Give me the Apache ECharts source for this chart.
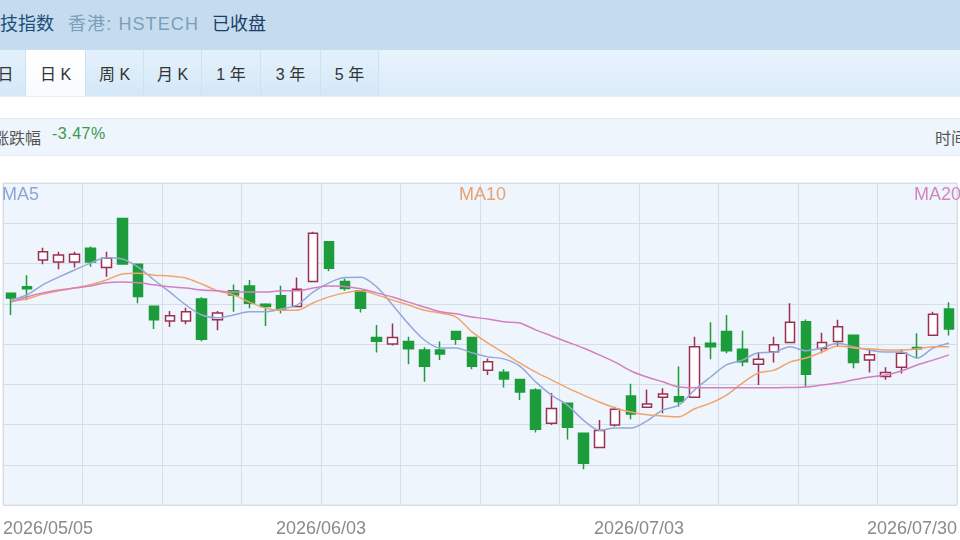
<!DOCTYPE html>
<html><head><meta charset="utf-8">
<script src="https://cdn.jsdelivr.net/npm/echarts@6/dist/echarts.min.js"></script>
<style>
html,body{margin:0;padding:0;width:960px;height:540px;overflow:hidden;background:#fff;font-family:"Liberation Sans","Noto Sans CJK SC",sans-serif;position:relative;}
.abs{position:absolute;white-space:nowrap;}
#hdr{left:0;top:0;width:960px;height:50px;background:#c4dcee;}
#tabs{left:0;top:50px;width:960px;height:46px;background:linear-gradient(#e7f3fd,#dbebf9);border-bottom:1px solid #e6eef6;}
.tab{position:absolute;top:0;height:46px;line-height:50px;font-size:16px;color:#333;text-align:center;border-right:1px solid #cfe1f0;box-sizing:border-box;background:linear-gradient(#e3f1fc,#d5e8f7);}
.tab.on{background:linear-gradient(#ffffff,#f7fbff);}
#info{left:0;top:118px;width:960px;height:36px;background:#eef5fc;border-top:1px solid #e2ebf5;border-bottom:1px solid #e2ebf5;}
#chart{position:absolute;left:0;top:160px;width:960px;height:380px;}
</style></head>
<body>
<div id="hdr" class="abs">
  <span class="abs" style="left:0;top:9px;font-size:18px;color:#1e4d7b;">技指数</span>
  <span class="abs" style="left:68px;top:9px;font-size:18px;letter-spacing:1.1px;color:#7d9eba;">香港: HSTECH</span>
  <span class="abs" style="left:212px;top:9px;font-size:18px;color:#1d3e68;">已收盘</span>
</div>
<div id="tabs" class="abs">
  <div class="tab" style="left:-30px;width:56px;">五日</div>
  <div class="tab on" style="left:26px;width:60px;">日 K</div>
  <div class="tab" style="left:86px;width:58px;">周 K</div>
  <div class="tab" style="left:144px;width:58px;">月 K</div>
  <div class="tab" style="left:202px;width:59px;">1 年</div>
  <div class="tab" style="left:261px;width:60px;">3 年</div>
  <div class="tab" style="left:321px;width:58px;">5 年</div>
</div>
<div id="info" class="abs">
  <span class="abs" style="left:-7px;top:6px;font-size:16px;color:#555;">涨跌幅</span>
  <span class="abs" style="left:52px;top:6px;font-size:16px;letter-spacing:0.5px;color:#3b9a4b;">-3.47%</span>
  <span class="abs" style="left:935px;top:6px;font-size:16px;color:#555;">时间</span>
</div>
<div id="chart"></div>
<script>
const dates = ['2026/05/05','2026/05/06','2026/05/07','2026/05/08','2026/05/11','2026/05/12','2026/05/13','2026/05/14','2026/05/15',
'2026/05/18','2026/05/19','2026/05/20','2026/05/21','2026/05/22','2026/05/26','2026/05/27','2026/05/28','2026/05/29',
'2026/06/01','2026/06/02','2026/06/03','2026/06/04','2026/06/05','2026/06/08','2026/06/09','2026/06/10','2026/06/11','2026/06/12',
'2026/06/15','2026/06/16','2026/06/17','2026/06/18','2026/06/22','2026/06/23','2026/06/24','2026/06/25','2026/06/26',
'2026/06/29','2026/06/30','2026/07/02','2026/07/03','2026/07/06','2026/07/07','2026/07/08','2026/07/09','2026/07/10',
'2026/07/13','2026/07/14','2026/07/15','2026/07/16','2026/07/17','2026/07/20','2026/07/21','2026/07/22','2026/07/23','2026/07/24',
'2026/07/27','2026/07/28','2026/07/29','2026/07/30'];
const openP = [5326,5342,5409,5404,5404,5438,5390,5512,5398,5294,5257,5257,5312,5260,5332,5344,5299,5320,5293,5355,
5454,5355,5332,5216,5200,5206,5185,5185,5231,5216,5135,5130,5112,5086,5003,5053,4978,4943,4999,5071,
5043,5068,5069,5068,5202,5231,5187,5150,5181,5204,5255,5189,5206,5222,5160,5119,5142,5191,5222,5287];
const closeP = [5314,5337,5429,5421,5423,5404,5413,5399,5318,5260,5270,5280,5212,5277,5322,5301,5293,5284,5336,5475,
5388,5338,5289,5207,5216,5188,5145,5175,5212,5145,5156,5113,5081,4988,5040,4993,4904,4985,5038,5026,
5051,5076,5057,5193,5193,5183,5156,5162,5198,5254,5125,5204,5243,5154,5173,5129,5177,5188,5274,5237];
const lowP = [5272,5309,5398,5386,5390,5392,5367,5398,5301,5237,5242,5249,5207,5234,5280,5289,5245,5276,5293,5354,
5381,5332,5278,5179,5196,5150,5106,5160,5198,5137,5123,5092,5061,4980,4999,4963,4889,4943,4995,5013,
5043,5028,5044,5068,5162,5177,5145,5098,5154,5204,5094,5177,5193,5140,5129,5111,5127,5164,5222,5221];
const highP = [5327,5371,5439,5429,5429,5442,5429,5513,5399,5295,5282,5290,5316,5282,5348,5359,5301,5345,5365,5479,
5454,5363,5332,5247,5251,5218,5192,5206,5231,5216,5164,5137,5112,5090,5078,5053,4978,5011,5044,5101,
5087,5090,5144,5218,5254,5272,5233,5178,5218,5301,5261,5228,5260,5222,5187,5142,5187,5227,5280,5304];
const ma5 = [5309,5322,5347,5366,5384,5401,5414,5411,5391,5359,5329,5297,5272,5265,5272,5280,5280,5287,5297,5329,
5352,5365,5366,5342,5297,5250,5210,5190,5190,5178,5168,5163,5145,5106,5073,5048,5011,4986,4991,4991,
5009,5036,5048,5086,5118,5148,5160,5178,5180,5193,5183,5190,5202,5193,5185,5180,5180,5165,5190,5202];
const ma10 = [5307,5312,5324,5332,5339,5347,5359,5374,5376,5371,5369,5364,5349,5332,5322,5304,5289,5284,5284,5302,
5317,5327,5332,5322,5309,5297,5284,5277,5267,5230,5202,5178,5153,5130,5111,5091,5073,5056,5041,5031,
5024,5021,5019,5039,5053,5073,5103,5128,5135,5155,5165,5180,5195,5190,5188,5185,5185,5188,5193,5193];
const ma20 = [5304,5317,5327,5334,5339,5344,5352,5354,5352,5347,5342,5339,5334,5332,5329,5329,5329,5332,5332,5339,
5344,5343,5337,5327,5317,5304,5292,5280,5275,5267,5262,5255,5252,5235,5220,5205,5190,5173,5155,5133,
5118,5106,5093,5091,5091,5091,5091,5091,5091,5092,5093,5098,5103,5111,5118,5123,5133,5148,5160,5173];
const maNames = ['MA5','MA10','MA20'];
const maColors = ['#93a9d8','#f1a46c','#d57fbf'];
const maTextColors = ['#8ea5d6','#e8a06e','#d585c0'];

const kData = dates.map((d,i)=>[openP[i],closeP[i],lowP[i],highP[i]]);
const chart = echarts.init(document.getElementById('chart'), null, {renderer:'canvas'});
const fontFam = '"Liberation Sans","Noto Sans CJK SC",sans-serif';
const mkLegend = (i, pos) => Object.assign({
  data:[{name:maNames[i], textStyle:{color:maTextColors[i]}}],
  top:26, padding:0, itemWidth:0, itemHeight:0, itemGap:0, icon:'rect',
  textStyle:{fontSize:18, fontFamily:fontFam}, selectedMode:false
}, pos);
chart.setOption({
  animation:false,
  legend:[mkLegend(0,{left:-3}), mkLegend(1,{left:'center'}), mkLegend(2,{right:-1})],
  grid:{left:2, top:23, width:960, height:322, show:true, backgroundColor:'#eef5fc', borderColor:'#dbe3ec', borderWidth:1},
  xAxis:[
    {type:'category', data:dates, boundaryGap:true, axisLine:{show:false}, axisTick:{show:false}, axisLabel:{show:false}, splitLine:{show:false}},
    {type:'value', min:0, max:60, interval:5, position:'bottom', axisLine:{show:false}, axisTick:{show:false},
     splitLine:{show:true, lineStyle:{color:'#d5dde7', width:1}},
     axisLabel:{show:true, color:'#8a8a8a', fontSize:18, fontFamily:fontFam, margin:15, hideOverlap:false,
       showMinLabel:true, showMaxLabel:true, alignMinLabel:'left', alignMaxLabel:'right',
       formatter:(v)=> (v % 20 === 0) ? dates[Math.min(v, dates.length-1)] : ''}}
  ],
  yAxis:{type:'value', min:4800, max:5600, interval:100, axisLine:{show:false}, axisTick:{show:false}, axisLabel:{show:false},
    splitLine:{show:true, lineStyle:{color:'#d5dde7', width:1}}},
  series:[
    {type:'candlestick', name:'K', data:kData, xAxisIndex:0, barWidth:10,
     itemStyle:{color:'#ffffff', color0:'#1d9c3c', borderColor:'#9b3150', borderColor0:'#1d9c3c', borderWidth:1.5}},
    ...maNames.map((n,i)=>({type:'line', name:n, xAxisIndex:0, data:[ma5,ma10,ma20][i], showSymbol:false, symbol:'none', smooth:0.3,
       lineStyle:{color:maColors[i], width:1.5}, itemStyle:{color:maColors[i]}, z:3}))
  ]
});
</script>
</body></html>
